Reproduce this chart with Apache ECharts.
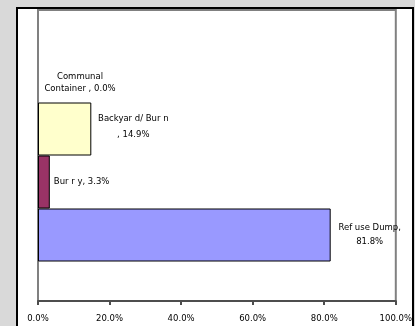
<!DOCTYPE html>
<html><head><meta charset="utf-8">
<script src="https://cdn.jsdelivr.net/npm/echarts@6/dist/echarts.min.js"></script>
<style>html,body{margin:0;padding:0;background:#d9d9d9;}#c{width:415px;height:326px;}</style>
</head><body><div id="c"></div>
<script>
// bottom-to-top order
var seriesNames = ['Refuse Dump', 'Burry', 'Backyard/ Burn', 'Communal Container'];
var seriesValues = [81.8, 3.3, 14.9, 0.0];
var seriesColors = ['#9999ff', '#993366', '#ffffcc', '#ffffff'];
var labelLines = [['Ref use Dump,', '81.8%'], ['Bur r y, 3.3%'], ['Backyar d/ Bur n', ', 14.9%'], ['Communal', 'Container , 0.0%']];
var xTicks = [0, 20, 40, 60, 80, 100];

var labelCfg = [
  {distance: 5, align: 'center', offset: [34, 0], lineHeight: 14, border: 1},
  {distance: 4, lineHeight: 12, border: 1},
  {distance: 4, align: 'center', offset: [38, -2], lineHeight: 16, border: 1},
  {distance: 4, align: 'center', offset: [38, 7], lineHeight: 12, border: 0}
];

var chart = echarts.init(document.getElementById('c'), null, {renderer: 'canvas'});
var series = [];
for (var i = seriesNames.length - 1; i >= 0; i--) {
  var lc = labelCfg[i];
  series.push({
    name: seriesNames[i], type: 'bar', data: [seriesValues[i]],
    barWidth: 53, barGap: '0%',
    itemStyle: {color: seriesColors[i], borderColor: '#000', borderWidth: lc.border},
    label: {
      show: true, position: 'right', distance: lc.distance,
      align: lc.align || 'left', offset: lc.offset || [0, 0],
      lineHeight: lc.lineHeight,
      fontFamily: 'DejaVu Sans', fontSize: 8.5, color: '#000',
      formatter: labelLines[i].join('\n')
    }
  });
}

chart.setOption({
  animation: false,
  backgroundColor: 'transparent',
  graphic: [{
    type: 'rect', z: -10, silent: true,
    shape: {x: 17, y: 8, width: 396, height: 340},
    style: {fill: '#ffffff', stroke: '#000000', lineWidth: 2}
  }],
  grid: {left: 38, right: 16, top: 10, bottom: 25, show: true, borderColor: '#808080', borderWidth: 2, backgroundColor: '#ffffff'},
  xAxis: {
    type: 'value', min: xTicks[0], max: xTicks[xTicks.length - 1], interval: xTicks[1] - xTicks[0],
    axisLine: {show: true, lineStyle: {color: '#4d4d4d', width: 2}},
    axisTick: {show: true, length: 4, lineStyle: {color: '#4d4d4d', width: 2}},
    splitLine: {show: false},
    axisLabel: {formatter: function (v) { return v.toFixed(1) + '%'; }, fontFamily: 'DejaVu Sans', fontSize: 8.5, color: '#000', margin: 13}
  },
  yAxis: {
    type: 'category', data: [''],
    axisLine: {show: false}, axisTick: {show: false}, axisLabel: {show: false}
  },
  series: series
});
</script></body></html>
